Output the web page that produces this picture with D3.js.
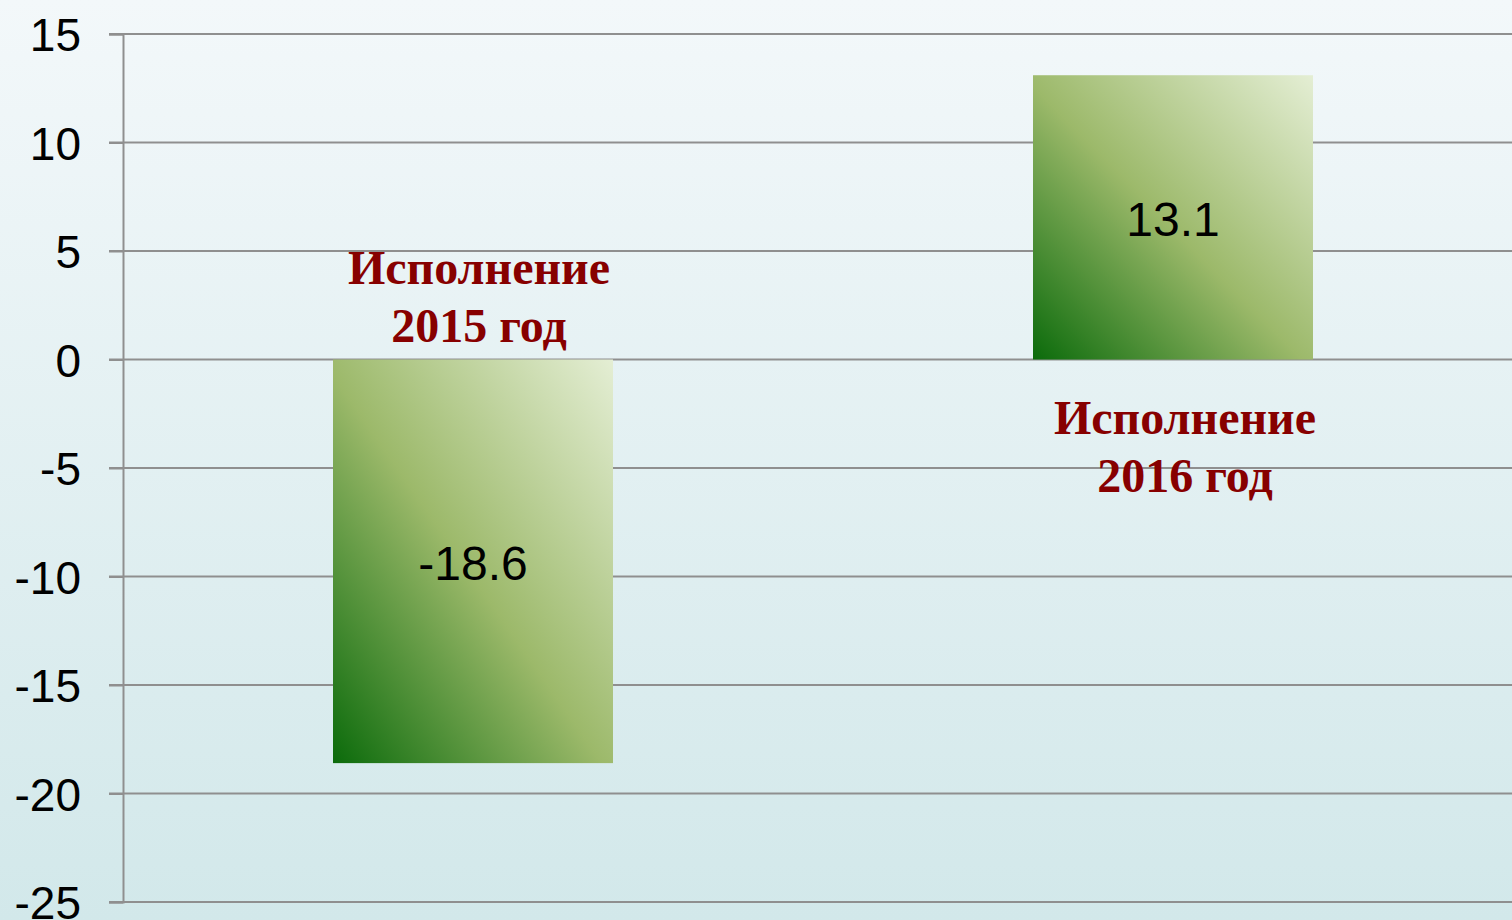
<!DOCTYPE html>
<html><head><meta charset="utf-8">
<script src="https://cdn.jsdelivr.net/npm/d3@7"></script>
<style>html,body{margin:0;padding:0;overflow:hidden;}svg{display:block;}</style>
</head><body>
<script>
const categories = ["Исполнение 2015 год", "Исполнение 2016 год"];
const labelLines = [["Исполнение", "2015 год"], ["Исполнение", "2016 год"]];
const values = [-18.6, 13.1];
const valueLabels = ["-18.6", "13.1"];
const yTicks = [15, 10, 5, 0, -5, -10, -15, -20, -25];

const W = 1512, H = 920;
const svg = d3.select("body").append("svg").attr("width", W).attr("height", H);
const defs = svg.append("defs");
const bg = defs.append("linearGradient").attr("id","bg").attr("x1",0).attr("y1",0).attr("x2",0).attr("y2",1);
bg.append("stop").attr("offset","0%").attr("stop-color","#f3f8fa");
bg.append("stop").attr("offset","100%").attr("stop-color","#d2e8ea");
const bar = defs.append("linearGradient").attr("id","bar").attr("x1",0).attr("y1",1).attr("x2",1).attr("y2",0);
bar.append("stop").attr("offset","0%").attr("stop-color","#0b6b0b");
bar.append("stop").attr("offset","48%").attr("stop-color","#9cb96a");
bar.append("stop").attr("offset","100%").attr("stop-color","#e4eed4");

svg.append("rect").attr("width",W).attr("height",H).attr("fill","url(#bg)");

const y = d3.scaleLinear().domain([-25, 15]).range([902, 34]);
const x = d3.scaleBand().domain(categories).range([123, 1523]).paddingInner(0.6).paddingOuter(0.3);

// gridlines
svg.append("g").selectAll("line").data(yTicks).join("line")
  .attr("x1", 109).attr("x2", W).attr("y1", d=>y(d)).attr("y2", d=>y(d))
  .attr("stroke","#8f8f8f").attr("stroke-width",2);
// axis
const axis = d3.axisLeft(y).tickValues(yTicks).tickSize(14).tickPadding(28).tickFormat(d3.format("d"));
const ag = svg.append("g").attr("transform","translate(123,0)").call(axis);
ag.select(".domain").attr("stroke","#8f8f8f").attr("stroke-width",2);
ag.selectAll(".tick line").attr("stroke","#8f8f8f").attr("stroke-width",2);
ag.selectAll(".tick text").attr("font-family","Liberation Sans, Arial, sans-serif").attr("font-size",46).attr("fill","#000")
  .attr("dy","0.36em").text(d => d < 0 ? "-" + Math.abs(d) : d);

// bars
svg.append("g").selectAll("rect").data(values).join("rect")
  .attr("x",(d,i)=>x(categories[i])).attr("width",x.bandwidth())
  .attr("y",d=>y(Math.max(0,d))).attr("height",d=>Math.abs(y(d)-y(0)))
  .attr("fill","url(#bar)");

// value labels
svg.append("g").selectAll("text").data(values).join("text")
  .attr("x",(d,i)=>x(categories[i])+x.bandwidth()/2)
  .attr("y",d=>(y(d)+y(0))/2 + 1)
  .attr("dy","0.36em").attr("text-anchor","middle")
  .attr("font-family","Liberation Sans, Arial, sans-serif").attr("font-size",48).attr("fill","#000")
  .text((d,i)=>valueLabels[i]);

// category labels
const lg = svg.append("g");
values.forEach((v,i)=>{
  const cx = x(categories[i]) + x.bandwidth()/2 + 6 + (i===1?6:0);
  const base = v < 0 ? y(0) - 76 : y(0) + 74;
  labelLines[i].forEach((t,j)=>{
    lg.append("text").attr("x",cx).attr("y",base + j*58).attr("text-anchor","middle")
      .attr("font-family","Liberation Serif, Times New Roman, serif").attr("font-weight","bold")
      .attr("font-size",48).attr("fill","#870000").text(t);
  });
});
</script>
</body></html>
